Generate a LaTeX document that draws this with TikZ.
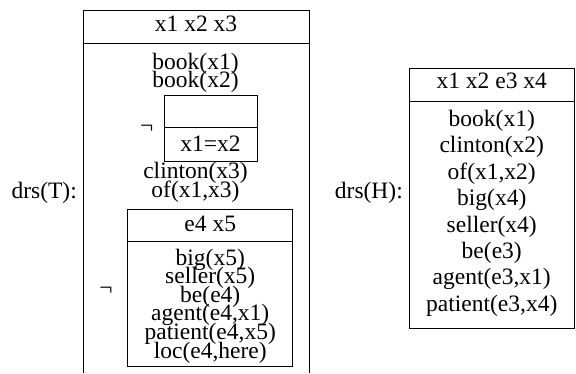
\documentclass[tikz,border=0pt]{standalone}
\usepackage{fontspec}
\setmainfont{Liberation Serif}
\begin{document}
\begin{tikzpicture}[x=1pt,y=-1pt,
  lbl/.style={anchor=base,inner sep=0pt,font=\fontsize{23.5}{23.5}\selectfont},
  frame/.style={draw,line width=0.9pt}]
\useasboundingbox (0,0) rectangle (576,373);

% ---- drs(T) outer box (open at the bottom) ----
\draw[frame] (83.5,373) -- (83.5,10.7) -- (309,10.7) -- (309,373);
\draw[frame] (83.5,43.3) -- (309,43.3);
\node[lbl] (tvars) at (196,31.7) {x1 x2 x3};
\node[lbl] (tb1) at (195.5,69.8) {book(x1)};
\node[lbl] (tb2) at (195.5,87.2) {book(x2)};

% inner negated box 1
\draw[frame] (164,95) rectangle (257,161);
\draw[frame] (164,127.7) -- (257,127.7);
\node[lbl] (neg1) at (146.7,133.3) {¬};
\node[lbl] (eq) at (210.5,151.7) {x1=x2};

\node[lbl] (tc) at (195.5,178.5) {clinton(x3)};
\node[lbl] (tof) at (195.5,197) {of(x1,x3)};

% inner negated box 2
\draw[frame] (127.7,209.2) rectangle (292.8,366.7);
\draw[frame] (127.7,241.7) -- (292.8,241.7);
\node[lbl] (neg2) at (106,295.6) {¬};
\node[lbl] (ivars) at (210.25,231.7) {e4 x5};
\node[lbl] (i1) at (210.25,265) {big(x5)};
\node[lbl] (i2) at (210.25,283.6) {seller(x5)};
\node[lbl] (i3) at (210.25,302.2) {be(e4)};
\node[lbl] (i4) at (210.25,320.8) {agent(e4,x1)};
\node[lbl] (i5) at (210.25,339.4) {patient(e4,x5)};
\node[lbl] (i6) at (210.25,358) {loc(e4,here)};

\node[lbl,anchor=base east] (drsT) at (77,198) {drs(T):};

% ---- drs(H) box ----
\draw[frame] (409,68.4) rectangle (574.5,328.3);
\draw[frame] (409,101.7) -- (574.5,101.7);
\node[lbl] (hvars) at (491.75,88) {x1 x2 e3 x4};
\node[lbl] (h1) at (491.75,126.5) {book(x1)};
\node[lbl] (h2) at (491.75,152.9) {clinton(x2)};
\node[lbl] (h3) at (491.75,179.3) {of(x1,x2)};
\node[lbl] (h4) at (491.75,205.7) {big(x4)};
\node[lbl] (h5) at (491.75,232.1) {seller(x4)};
\node[lbl] (h6) at (491.75,258.5) {be(e3)};
\node[lbl] (h7) at (491.75,284.9) {agent(e3,x1)};
\node[lbl] (h8) at (491.75,311.3) {patient(e3,x4)};

\node[lbl,anchor=base east] (drsH) at (403,198) {drs(H):};
\end{tikzpicture}
\end{document}
